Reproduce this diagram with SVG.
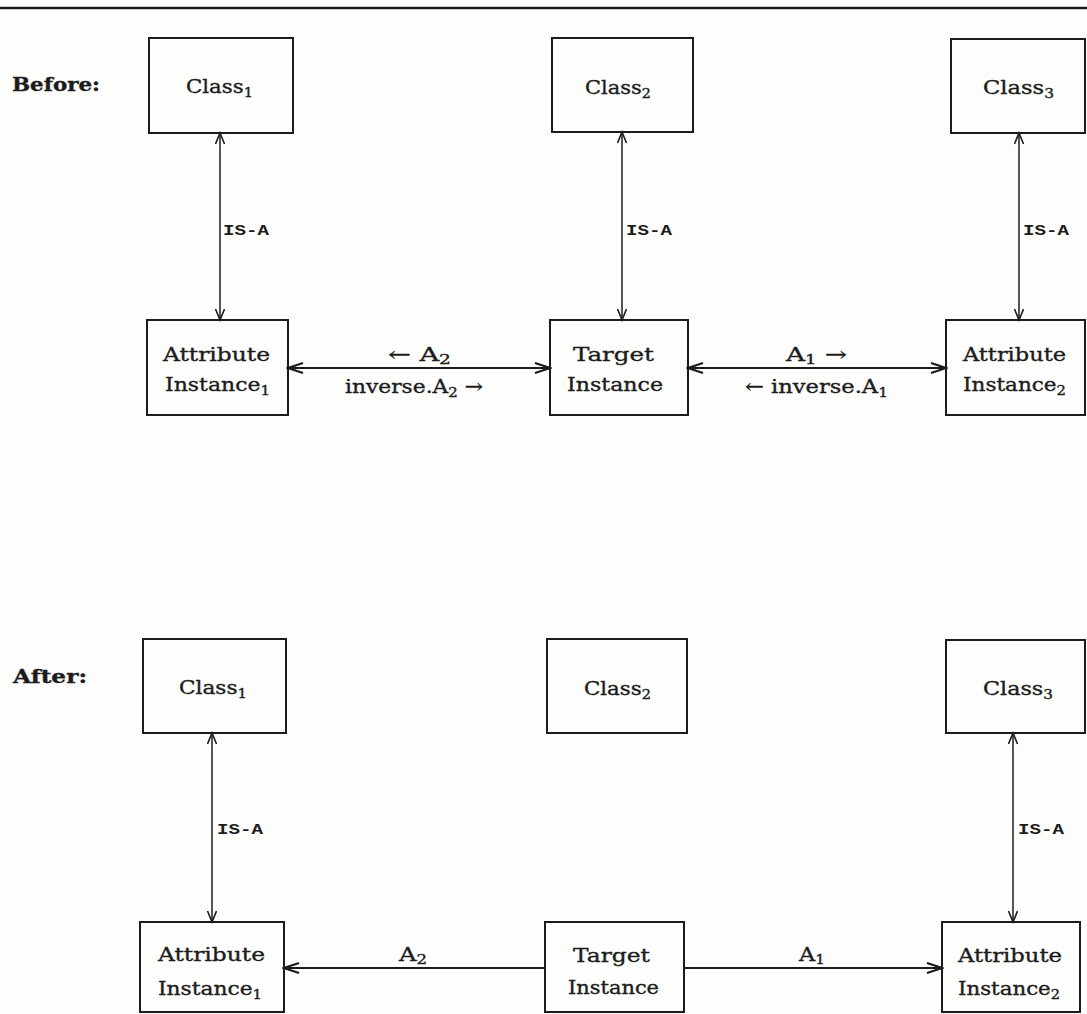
<svg xmlns="http://www.w3.org/2000/svg" width="1087" height="1014" viewBox="0 0 1087 1014">
  <style>
    .box { fill: none; stroke: #1c1c1c; stroke-width: 2; }
    .t { font-family: "DejaVu Serif", "Liberation Serif", serif; font-size: 19px; fill: #1c1c1c; stroke: #1c1c1c; stroke-width: 0.35; }
    .hd { font-weight: bold; }
    .lbl { font-family: "Liberation Mono", "DejaVu Sans Mono", monospace; font-size: 15px; font-weight: bold; fill: #1c1c1c; }
    .sub { font-size: 13px; }
    .edge { fill: none; stroke: #1c1c1c; stroke-width: 1.5; }
    .edge.h { stroke-width: 2.2; }
  </style>
  <defs>
    <marker id="v" markerUnits="userSpaceOnUse" markerWidth="14" markerHeight="12" refX="12" refY="5" orient="auto-start-reverse">
      <path d="M1,0.5 L12,5 L1,9.5" fill="none" stroke="#1c1c1c" stroke-width="1.6"/>
    </marker>
    <marker id="vh" markerUnits="userSpaceOnUse" markerWidth="18" markerHeight="14" refX="16" refY="6" orient="auto-start-reverse">
      <path d="M1,1 L16,6 L1,11" fill="none" stroke="#1c1c1c" stroke-width="2.2"/>
    </marker>
  </defs>
  <rect width="1087" height="1014" fill="#fdfdfb"/>
  <line x1="0" y1="8" x2="1087" y2="8" stroke="#1c1c1c" stroke-width="2.6"/>

  <!-- Before -->
  <text class="t hd" x="12" y="91" textLength="88" lengthAdjust="spacingAndGlyphs">Before:</text>
  <g id="b-class1">
    <rect class="box" x="149" y="38" width="144" height="95"/>
    <text class="t" x="186" y="93" textLength="67" lengthAdjust="spacingAndGlyphs">Class<tspan class="sub" dy="4">1</tspan></text>
  </g>
  <g id="b-class2">
    <rect class="box" x="552" y="38" width="141" height="94"/>
    <text class="t" x="585" y="94" textLength="66" lengthAdjust="spacingAndGlyphs">Class<tspan class="sub" dy="4">2</tspan></text>
  </g>
  <g id="b-class3">
    <rect class="box" x="951" y="39" width="134" height="94"/>
    <text class="t" x="983" y="94" textLength="71" lengthAdjust="spacingAndGlyphs">Class<tspan class="sub" dy="4">3</tspan></text>
  </g>
  <g id="b-attr1">
    <rect class="box" x="147" y="320" width="141" height="95"/>
    <text class="t" x="163" y="361" textLength="107" lengthAdjust="spacingAndGlyphs">Attribute</text>
    <text class="t" x="165" y="391" textLength="105" lengthAdjust="spacingAndGlyphs">Instance<tspan class="sub" dy="4">1</tspan></text>
  </g>
  <g id="b-target">
    <rect class="box" x="550" y="320" width="138" height="95"/>
    <text class="t" x="573" y="361" textLength="81" lengthAdjust="spacingAndGlyphs">Target</text>
    <text class="t" x="567" y="391" textLength="96" lengthAdjust="spacingAndGlyphs">Instance</text>
  </g>
  <g id="b-attr2">
    <rect class="box" x="946" y="320" width="139" height="95"/>
    <text class="t" x="963" y="361" textLength="103" lengthAdjust="spacingAndGlyphs">Attribute</text>
    <text class="t" x="963" y="391" textLength="103" lengthAdjust="spacingAndGlyphs">Instance<tspan class="sub" dy="4">2</tspan></text>
  </g>

  <!-- After -->
  <text class="t hd" x="13" y="683" textLength="74" lengthAdjust="spacingAndGlyphs">After:</text>
  <g id="a-class1">
    <rect class="box" x="143" y="639" width="143" height="94"/>
    <text class="t" x="179" y="694" textLength="68" lengthAdjust="spacingAndGlyphs">Class<tspan class="sub" dy="4">1</tspan></text>
  </g>
  <g id="a-class2">
    <rect class="box" x="547" y="639" width="140" height="94"/>
    <text class="t" x="584" y="695" textLength="67" lengthAdjust="spacingAndGlyphs">Class<tspan class="sub" dy="4">2</tspan></text>
  </g>
  <g id="a-class3">
    <rect class="box" x="946" y="640" width="139" height="93"/>
    <text class="t" x="983" y="695" textLength="70" lengthAdjust="spacingAndGlyphs">Class<tspan class="sub" dy="4">3</tspan></text>
  </g>
  <g id="a-attr1">
    <rect class="box" x="140" y="922" width="144" height="90"/>
    <text class="t" x="158" y="961" textLength="107" lengthAdjust="spacingAndGlyphs">Attribute</text>
    <text class="t" x="158" y="995" textLength="104" lengthAdjust="spacingAndGlyphs">Instance<tspan class="sub" dy="4">1</tspan></text>
  </g>
  <g id="a-target">
    <rect class="box" x="545" y="922" width="139" height="90"/>
    <text class="t" x="573" y="962" textLength="77" lengthAdjust="spacingAndGlyphs">Target</text>
    <text class="t" x="568" y="994" textLength="91" lengthAdjust="spacingAndGlyphs">Instance</text>
  </g>
  <g id="a-attr2">
    <rect class="box" x="942" y="922" width="138" height="90"/>
    <text class="t" x="958" y="962" textLength="104" lengthAdjust="spacingAndGlyphs">Attribute</text>
    <text class="t" x="958" y="995" textLength="102" lengthAdjust="spacingAndGlyphs">Instance<tspan class="sub" dy="4">2</tspan></text>
  </g>

  <!-- connectors -->
  <g id="connectors">
    <line class="edge" x1="220" y1="133" x2="220" y2="320" marker-start="url(#v)" marker-end="url(#v)"/>
    <line class="edge" x1="622" y1="132" x2="622" y2="320" marker-start="url(#v)" marker-end="url(#v)"/>
    <line class="edge" x1="1019" y1="133" x2="1019" y2="320" marker-start="url(#v)" marker-end="url(#v)"/>
    <line class="edge h" x1="288" y1="368" x2="550" y2="368" marker-start="url(#vh)" marker-end="url(#vh)"/>
    <line class="edge h" x1="688" y1="368" x2="946" y2="368" marker-start="url(#vh)" marker-end="url(#vh)"/>

    <line class="edge" x1="212" y1="733" x2="212" y2="922" marker-start="url(#v)" marker-end="url(#v)"/>
    <line class="edge" x1="1013" y1="733" x2="1013" y2="922" marker-start="url(#v)" marker-end="url(#v)"/>
    <line class="edge h" x1="545" y1="968" x2="284" y2="968" marker-end="url(#vh)"/>
    <line class="edge h" x1="684" y1="968" x2="942" y2="968" marker-end="url(#vh)"/>

    <text class="lbl" x="223" y="235" textLength="46" lengthAdjust="spacingAndGlyphs">IS-A</text>
    <text class="lbl" x="626" y="235" textLength="46" lengthAdjust="spacingAndGlyphs">IS-A</text>
    <text class="lbl" x="1023" y="235" textLength="46" lengthAdjust="spacingAndGlyphs">IS-A</text>
    <text class="lbl" x="217" y="834" textLength="46" lengthAdjust="spacingAndGlyphs">IS-A</text>
    <text class="lbl" x="1018" y="834" textLength="46" lengthAdjust="spacingAndGlyphs">IS-A</text>

    <text class="t" x="388" y="361" textLength="63" lengthAdjust="spacingAndGlyphs">← A<tspan class="sub" dy="3">2</tspan></text>
    <text class="t" x="345" y="393" textLength="138" lengthAdjust="spacingAndGlyphs">inverse.A<tspan class="sub" dy="4">2</tspan><tspan dy="-4"> →</tspan></text>
    <text class="t" x="786" y="361" textLength="61" lengthAdjust="spacingAndGlyphs">A<tspan class="sub" dy="3">1</tspan><tspan dy="-3"> →</tspan></text>
    <text class="t" x="745" y="393" textLength="143" lengthAdjust="spacingAndGlyphs">← inverse.A<tspan class="sub" dy="4">1</tspan></text>
    <text class="t" x="399" y="961" textLength="28" lengthAdjust="spacingAndGlyphs">A<tspan class="sub" dy="3">2</tspan></text>
    <text class="t" x="799" y="961" textLength="26" lengthAdjust="spacingAndGlyphs">A<tspan class="sub" dy="3">1</tspan></text>
  </g>
</svg>
